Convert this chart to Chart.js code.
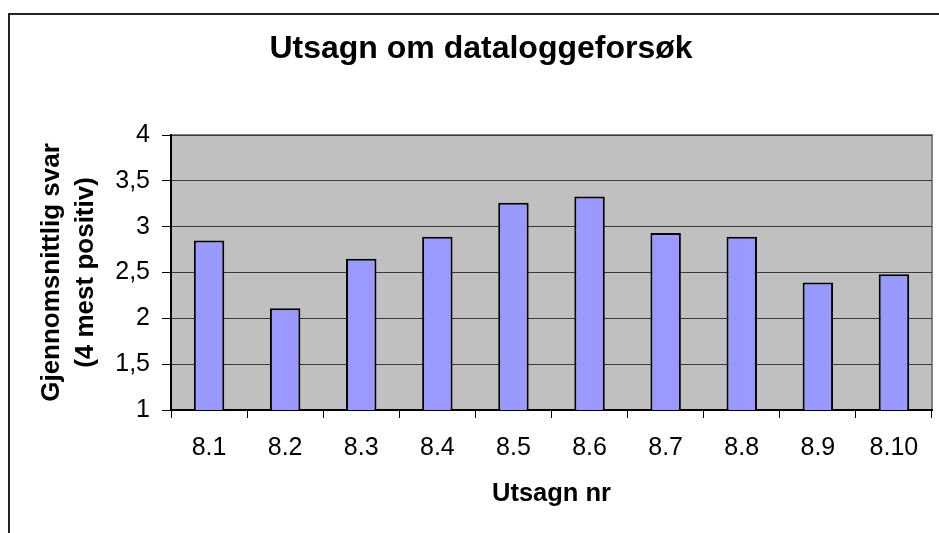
<!DOCTYPE html>
<html>
<head>
<meta charset="utf-8">
<script src="https://cdn.jsdelivr.net/npm/chart.js@4.4.1/dist/chart.umd.min.js"></script>
<style>
  html, body { margin: 0; padding: 0; background: #fff; overflow: hidden; }
  #frame {
    position: absolute; left: 8px; top: 13px; width: 1000px; height: 600px;
    border-left: 2px solid #222; border-top: 2px solid #222;
  }
  #wrap { position: absolute; left: 0; top: 0; width: 939px; height: 533px; }
</style>
</head>
<body>
<div id="frame"></div>
<div id="wrap"><canvas id="chartUtsagn"></canvas></div>
<script>
/* ═══════════════════════════════
   DATA
═══════════════════════════════ */
const categories = ['8.1', '8.2', '8.3', '8.4', '8.5', '8.6', '8.7', '8.8', '8.9', '8.10'];
const averageAnswers = [2.85, 2.11, 2.65, 2.89, 3.26, 3.33, 2.93, 2.89, 2.39, 2.48];
const yTickLabels = ['1', '1,5', '2', '2,5', '3', '3,5', '4'];

const FONT = '"Liberation Sans", Arial, sans-serif';

/**
 * Gray plot area with a thin gray frame (Excel style)
 */
const plotAreaBg = {
    id: 'plotAreaBg',
    beforeDraw(chart) {
        const { ctx, chartArea: a } = chart;
        ctx.save();
        ctx.fillStyle = '#C0C0C0';
        ctx.fillRect(a.left, a.top, a.right - a.left, a.bottom - a.top);
        ctx.strokeStyle = '#808080';
        ctx.lineWidth = 2;
        ctx.strokeRect(a.left, a.top, a.right - a.left, a.bottom - a.top);
        ctx.restore();
    }
};

const ctx = document.getElementById('chartUtsagn');

new Chart(ctx, {
    type: 'bar',
    data: {
        labels: categories,
        datasets: [{
            data: averageAnswers,
            backgroundColor: '#9999FF',
            borderColor: '#000',
            borderWidth: 2,
            categoryPercentage: 1,
            barPercentage: 0.4
        }]
    },
    options: {
        responsive: true,
        maintainAspectRatio: false,
        animation: false,
        layout: { padding: { left: 30, right: 7, top: 0, bottom: 0 } },
        plugins: {
            legend: { display: false },
            tooltip: { enabled: false },
            title: {
                display: true,
                text: 'Utsagn om dataloggeforsøk',
                color: '#000',
                font: { family: FONT, size: 32, weight: 'bold', lineHeight: 1.2 },
                padding: { top: 30, bottom: 66.6 }
            }
        },
        scales: {
            x: {
                afterFit(scale) { scale.height = 123; },
                grid: {
                    drawOnChartArea: false,
                    drawTicks: true,
                    tickLength: 8,
                    tickColor: '#000',
                    offset: true
                },
                border: { color: '#000', width: 2 },
                ticks: {
                    color: '#000',
                    padding: 15,
                    font: { family: FONT, size: 25 }
                },
                title: {
                    display: true,
                    text: 'Utsagn nr',
                    color: '#000',
                    font: { family: FONT, size: 25.5, weight: 'bold', lineHeight: 1.2 },
                    padding: { top: 0, bottom: 24 }
                }
            },
            y: {
                min: 1,
                max: 4,
                afterFit(scale) { scale.width = 141; },
                grid: {
                    color: '#3a3a3a',
                    lineWidth: 1,
                    tickLength: 9,
                    tickColor: '#000'
                },
                border: { color: '#000', width: 2 },
                ticks: {
                    stepSize: 0.5,
                    color: '#000',
                    padding: 12,
                    font: { family: FONT, size: 25 },
                    callback: (value, index) => yTickLabels[index]
                },
                title: {
                    display: true,
                    text: ['Gjennomsnittlig svar', '(4 mest positiv)'],
                    color: '#000',
                    font: { family: FONT, size: 26, weight: 'bold', lineHeight: 1.3 },
                    padding: { top: 5, bottom: 0 }
                }
            }
        }
    },
    plugins: [plotAreaBg]
});
</script>
</body>
</html>
